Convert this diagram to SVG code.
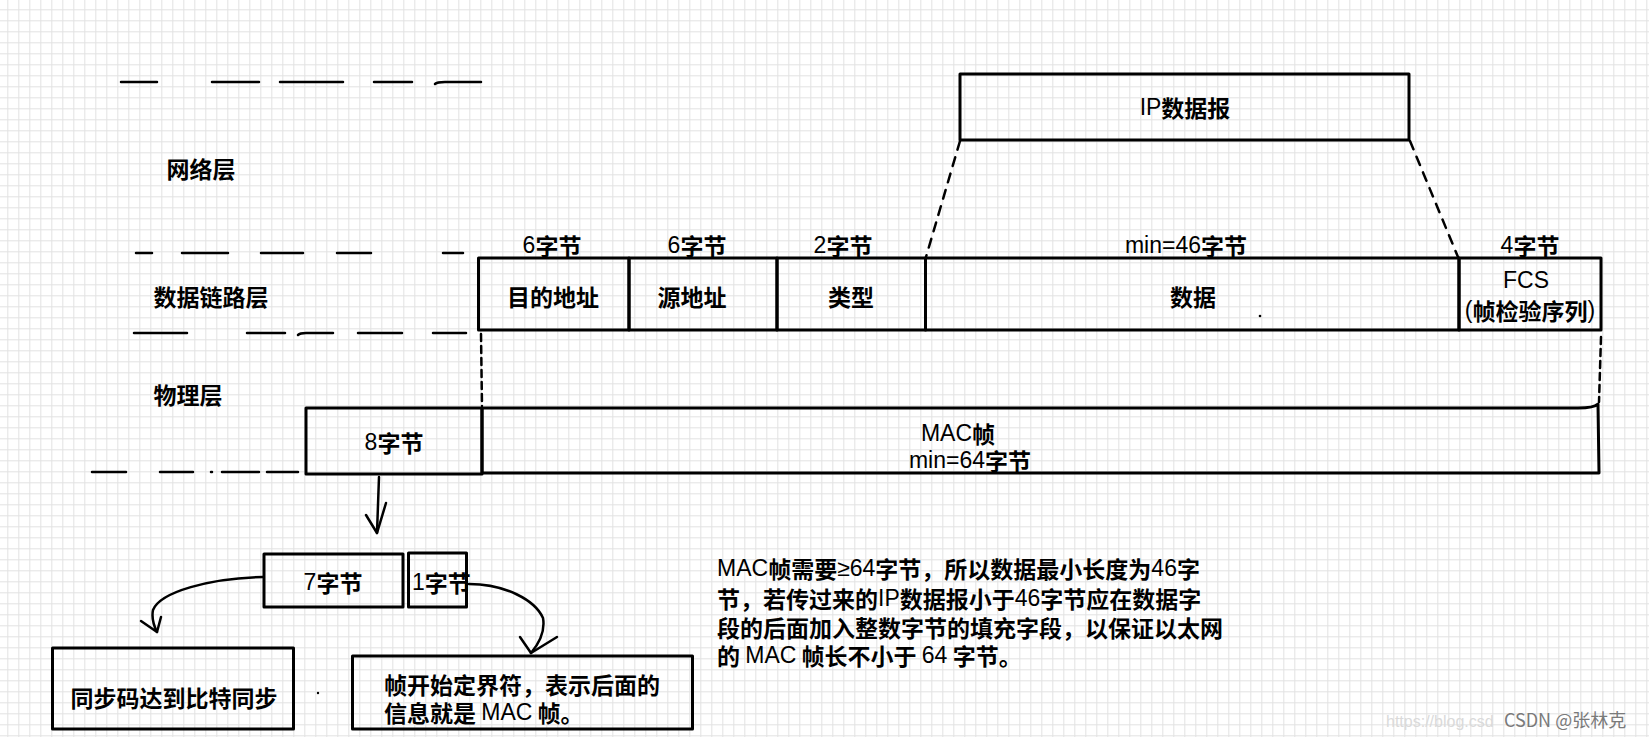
<svg xmlns="http://www.w3.org/2000/svg" width="1649" height="737" viewBox="0 0 1649 737">
<defs>
<pattern id="grid" x="7.3" y="9.3" width="11" height="11" patternUnits="userSpaceOnUse">
<path d="M0.5 0 V11 M0 0.5 H11" stroke="#e2e2e2" stroke-width="1" fill="none"/>
</pattern>
<style>
.box{fill:none;stroke:#000;stroke-width:3;stroke-linejoin:round;stroke-linecap:round}
.dl{stroke:#000;stroke-width:2.5;stroke-linecap:round;fill:none}
.dash{stroke:#000;stroke-width:2.5;stroke-dasharray:9 8;fill:none;stroke-linecap:round}
.vd{stroke:#000;stroke-width:2.5;stroke-dasharray:7 5;fill:none;stroke-linecap:round}
.arr{stroke:#000;stroke-width:2.5;fill:none;stroke-linecap:round;stroke-linejoin:round}
.t{font-family:"Noto Sans CJK SC","Noto Sans",sans-serif;font-weight:700;font-size:23px;fill:#000;dominant-baseline:central}
.c{text-anchor:middle}
.h{font-family:"Liberation Sans","DejaVu Sans",sans-serif;font-weight:400}
.wm{font-family:"Noto Sans CJK SC","Noto Sans",sans-serif;font-size:18px;fill:#7a7a7a}
</style>
</defs>
<rect width="1649" height="737" fill="#fff"/>
<rect width="1649" height="737" fill="url(#grid)"/>

<g id="layer-lines">
<line class="dl" x1="121" y1="82" x2="157" y2="82"/>
<line class="dl" x1="212" y1="82" x2="259" y2="82"/>
<line class="dl" x1="280" y1="82" x2="343" y2="82"/>
<line class="dl" x1="374" y1="82" x2="412" y2="82"/>
<path class="dl" d="M435 84 Q437 82 445 82 L481 82"/>
<line class="dl" x1="136" y1="253" x2="152" y2="253"/>
<line class="dl" x1="182" y1="253" x2="228" y2="253"/>
<line class="dl" x1="261" y1="253" x2="303" y2="253"/>
<line class="dl" x1="337" y1="253" x2="371" y2="253"/>
<line class="dl" x1="443" y1="253" x2="463" y2="253"/>
<line class="dl" x1="134" y1="333" x2="187" y2="333"/>
<line class="dl" x1="247" y1="333" x2="285" y2="333"/>
<path class="dl" d="M298 335 Q300 333 306 333 L333 333"/>
<line class="dl" x1="358" y1="333" x2="402" y2="333"/>
<line class="dl" x1="433" y1="333" x2="466" y2="333"/>
<line class="dl" x1="92" y1="472" x2="126" y2="472"/>
<line class="dl" x1="160" y1="472" x2="193" y2="472"/>
<line class="dl" x1="211" y1="472" x2="212" y2="472"/>
<line class="dl" x1="222" y1="472" x2="259" y2="472"/>
<line class="dl" x1="267" y1="472" x2="298" y2="472"/>
</g>

<g id="layer-labels">
<text class="t c" x="201" y="168">网络层</text>
<text class="t c" x="211" y="296">数据链路层</text>
<text class="t c" x="188" y="394">物理层</text>
</g>

<g id="ip-datagram">
<rect class="box" x="960" y="74" width="449" height="66"/>
<text class="t c" x="1185" y="107"><tspan class="h">IP</tspan>数据报</text>
</g>

<g id="dst-addr">
<rect class="box" x="478.5" y="258" width="150.5" height="72"/>
<text class="t c" x="552" y="245"><tspan class="h">6</tspan>字节</text>
<text class="t c" x="553" y="296">目的地址</text>
</g>
<g id="src-addr">
<rect class="box" x="629" y="258" width="148" height="72"/>
<text class="t c" x="697" y="245"><tspan class="h">6</tspan>字节</text>
<text class="t c" x="692" y="296">源地址</text>
</g>
<g id="type">
<rect class="box" x="777" y="258" width="148.5" height="72"/>
<text class="t c" x="843" y="245"><tspan class="h">2</tspan>字节</text>
<text class="t c" x="851" y="296">类型</text>
</g>
<g id="data">
<rect class="box" x="925.5" y="258" width="533.5" height="72"/>
<text class="t c" x="1186" y="245"><tspan class="h">min=46</tspan>字节</text>
<text class="t c" x="1193" y="296">数据</text>
<circle cx="1260" cy="316" r="1.3" fill="#000"/>
</g>
<g id="fcs">
<rect class="box" x="1459" y="258" width="142" height="72"/>
<text class="t c" x="1530" y="245"><tspan class="h">4</tspan>字节</text>
<text class="t c"><tspan x="1526" y="280" class="h">FCS</tspan><tspan x="1530" y="310"><tspan class="h">(</tspan>帧检验序列<tspan class="h">)</tspan></tspan></text>
</g>

<g id="preamble">
<rect class="box" x="306" y="408" width="176" height="66"/>
<text class="t c" x="394" y="442"><tspan class="h">8</tspan>字节</text>
</g>
<g id="mac-frame">
<path class="box" d="M482 408 L1578 408 Q1594 408 1598 404 L1599 473 L482 473 Z"/>
<text class="t c"><tspan x="958" y="433"><tspan class="h">MAC</tspan>帧</tspan><tspan x="970" y="460"><tspan class="h">min=64</tspan>字节</tspan></text>
</g>

<g id="seven-bytes">
<rect class="box" x="264" y="554" width="139" height="53"/>
<text class="t c" x="333" y="582"><tspan class="h">7</tspan>字节</text>
</g>
<g id="one-byte">
<rect class="box" x="408.5" y="553" width="58" height="54"/>
<text class="t" x="412" y="582"><tspan class="h">1</tspan>字节</text>
</g>

<g id="sync-box">
<rect class="box" x="52.5" y="648" width="241" height="81"/>
<text class="t c" x="174" y="697">同步码达到比特同步</text>
</g>
<circle cx="318" cy="693" r="1.2" fill="#000"/>
<g id="sfd-box">
<rect class="box" x="352.5" y="656" width="340" height="73"/>
<text class="t"><tspan x="384" y="684">帧开始定界符，表示后面的</tspan><tspan x="384" y="712">信息就是 <tspan class="h">MAC</tspan> 帧。</tspan></text>
</g>

<g id="note">
<text class="t"><tspan x="717" y="568"><tspan class="h">MAC</tspan>帧需要<tspan class="h">≥64</tspan>字节，所以数据最小长度为<tspan class="h">46</tspan>字</tspan><tspan x="717" y="598">节，若传过来的<tspan class="h">IP</tspan>数据报小于<tspan class="h">46</tspan>字节应在数据字</tspan><tspan x="717" y="627">段的后面加入整数字节的填充字段，以保证以太网</tspan><tspan x="717" y="655">的 <tspan class="h">MAC</tspan> 帧长不小于 <tspan class="h">64</tspan> 字节。</tspan></text>
</g>

<g id="connectors">
<line class="dash" x1="960" y1="141" x2="926" y2="257"/>
<line class="dash" x1="1410" y1="141" x2="1458" y2="257"/>
<line class="vd" x1="481" y1="334" x2="482" y2="406"/>
<line class="vd" x1="1601" y1="337" x2="1599" y2="402"/>
<path class="arr" d="M379 477 Q378 505 377 533"/>
<path class="arr" d="M366 515 L377 533 L386 503"/>
<path class="arr" d="M263 577 C210 578 160 592 153 610 Q151 620 157 632"/>
<path class="arr" d="M141 621 L157 632 L161 617"/>
<path class="arr" d="M469 584 C505 584 535 600 543 618 Q546 635 531 653"/>
<path class="arr" d="M520 637 L531 653 L557 637"/>
</g>

<g id="watermark">
<text x="1386" y="727" font-family="Liberation Sans, sans-serif" font-size="16" fill="#dadada">https://blog.csd</text>
<text class="wm" x="1504" y="727">CSDN @张林克</text>
</g>
</svg>
